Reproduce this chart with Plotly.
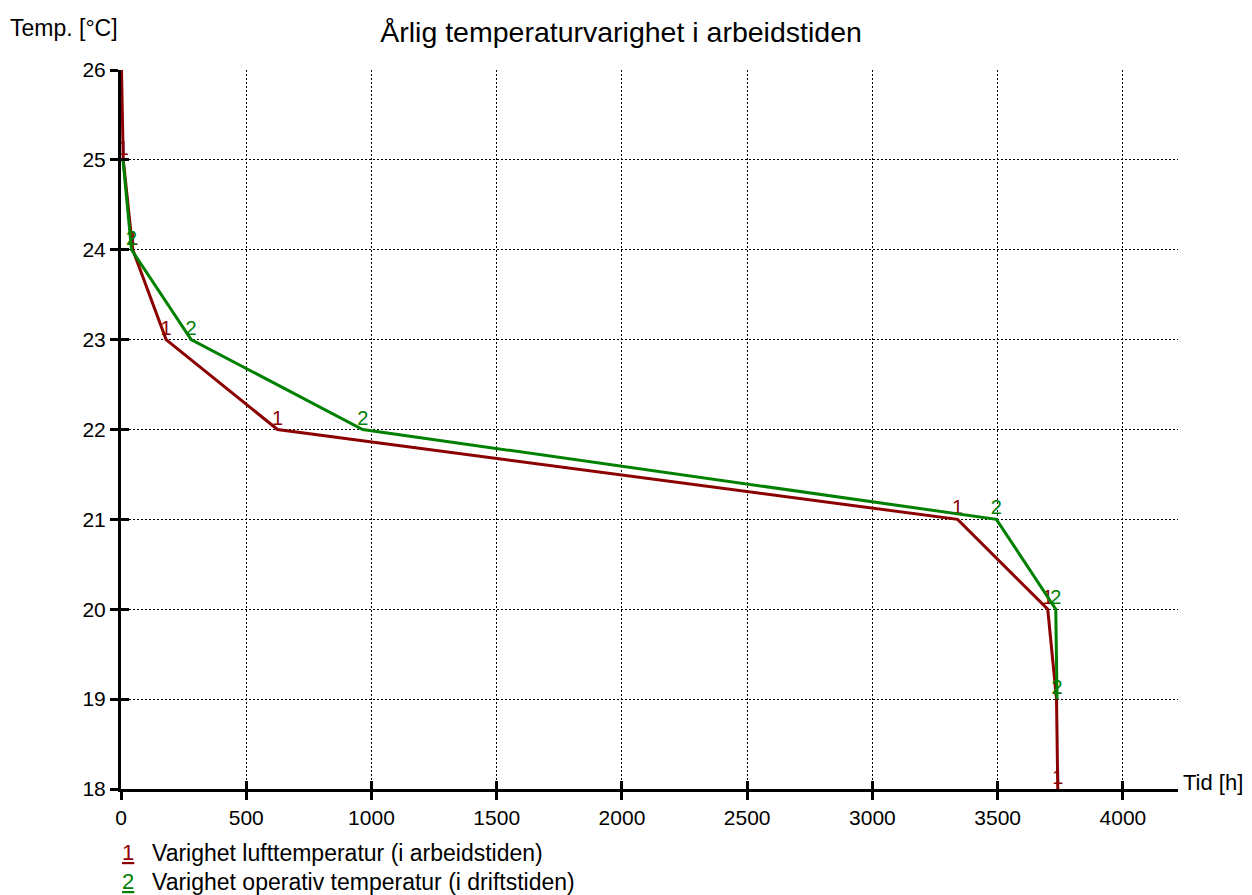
import plotly.graph_objects as go

# Årlig temperaturvarighet - timer over gitt temperatur
temp_luft = [26, 25, 24, 23, 22, 21, 20, 19, 18]
tid_luft = [2, 9, 47, 180, 625, 3340, 3700, 3735, 3740]
temp_oper = [25, 24, 23, 22, 21, 20, 19]
tid_oper = [8, 42, 280, 965, 3495, 3732, 3737]

x_ticks = [0, 500, 1000, 1500, 2000, 2500, 3000, 3500, 4000]
y_ticks = [18, 19, 20, 21, 22, 23, 24, 25, 26]

RED = "#8b0000"
GREEN = "#008000"
FONT = "Arial, Liberation Sans, sans-serif"

def labels(n, tag):
    # first point carries no label
    return [""] + [tag]*(n - 1)

fig = go.Figure()
fig.add_trace(go.Scatter(
    x = tid_luft, y = temp_luft, mode = "lines+text",
    line = dict(color = RED, width = 3),
    text = labels(len(tid_luft), "1"), textposition = "top center",
    textfont = dict(color = RED, size = 20, family = FONT),
    showlegend = False, cliponaxis = False,
))
fig.add_trace(go.Scatter(
    x = tid_oper, y = temp_oper, mode = "lines+text",
    line = dict(color = GREEN, width = 3),
    text = labels(len(tid_oper), "2"), textposition = "top center",
    textfont = dict(color = GREEN, size = 20, family = FONT),
    showlegend = False, cliponaxis = False,
))

axis_common = dict(
    showline = True, linecolor = "black", linewidth = 3,
    ticks = "outside", ticklen = 8, tickwidth = 3, tickcolor = "black",
    tickfont = dict(size = 21, color = "black", family = FONT),
    gridcolor = "black", gridwidth = 1, griddash = "2px,2px",
    zeroline = False, mirror = False,
)
fig.update_layout(
    xaxis = dict(range = [0, 4220], tickvals = x_ticks, showgrid = True, **axis_common),
    yaxis = dict(range = [18, 26], tickvals = y_ticks, showgrid = True, **axis_common),
    # overlay axes to make the ticks cross the axis line
    xaxis2 = dict(overlaying = "x", matches = "x", range = [0, 4220], tickvals = x_ticks,
        ticks = "inside", ticklen = 8, tickwidth = 3, tickcolor = "black",
        showticklabels = False, showgrid = False, zeroline = False, showline = False),
    yaxis2 = dict(overlaying = "y", matches = "y", range = [18, 26], tickvals = y_ticks,
        ticks = "inside", ticklen = 8, tickwidth = 3, tickcolor = "black",
        showticklabels = False, showgrid = False, zeroline = False, showline = False),
)
fig.add_trace(go.Scatter(x = [None], y = [None], xaxis = "x2", yaxis = "y2",
    showlegend = False, hoverinfo = "skip"))

fig.add_annotation(text = "Temp. [°C]", xref = "paper", yref = "paper", x = -0.001, y = 1.058,
    xanchor = "right", yanchor = "middle", showarrow = False,
    font = dict(size = 23, color = "black", family = FONT))
fig.add_annotation(text = "Tid [h]", xref = "paper", yref = "paper", x = 1.003, y = 0.0097,
    xanchor = "left", yanchor = "middle", showarrow = False,
    font = dict(size = 22, color = "black", family = FONT))

legend_items = [
    ("1", RED, "Varighet lufttemperatur (i arbeidstiden)"),
    ("2", GREEN, "Varighet operativ temperatur (i driftstiden)"),
]
for i, (tag, color, name) in enumerate(legend_items):
    y = -0.089 - i*0.0403
    fig.add_annotation(
        text = f"<span style='text-decoration:underline'>{tag}</span>",
        xref = "paper", yref = "paper", x = 0.0066, y = y,
        xanchor = "center", yanchor = "middle", showarrow = False,
        font = dict(size = 22, color = color, family = FONT),
    )
    fig.add_annotation(
        text = name, xref = "paper", yref = "paper", x = 0.0274, y = y,
        xanchor = "left", yanchor = "middle", showarrow = False,
        font = dict(size = 23, color = "black", family = FONT),
    )

fig.update_layout(
    title = dict(text = "Årlig temperaturvarighet i arbeidstiden", x = 0.4928, xref = "container",
        y = 0.973, yref = "container", xanchor = "center", yanchor = "middle",
        font = dict(size = 28.5, color = "black", family = FONT)),
    width = 1244, height = 887,
    margin = dict(l = 113, r = 74, t = 62, b = 106),
    plot_bgcolor = "white", paper_bgcolor = "white",
    font = dict(family = FONT, color = "black"),
)
fig.write_html("out.html")
